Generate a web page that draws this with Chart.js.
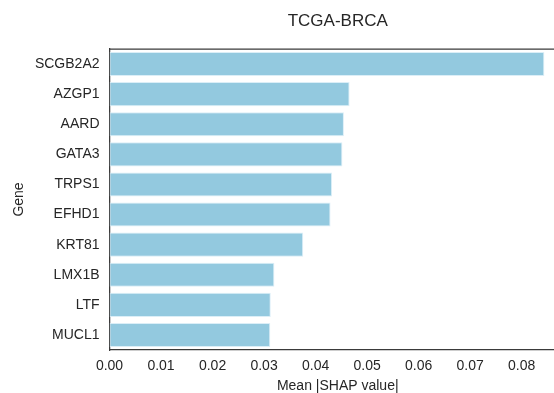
<!DOCTYPE html>
<html>
<head>
<meta charset="utf-8">
<script src="https://cdn.jsdelivr.net/npm/chart.js@4.4.1/dist/chart.umd.min.js"></script>
<style>
  html, body { margin: 0; padding: 0; background: #ffffff; overflow: hidden; }
  #wrap { width: 566px; height: 393px; position: relative; }
</style>
</head>
<body>
<div id="wrap"><canvas id="c" width="566" height="393"></canvas></div>
<script>
// Top genes by mean absolute SHAP value
const genes = ['SCGB2A2', 'AZGP1', 'AARD', 'GATA3', 'TRPS1', 'EFHD1', 'KRT81', 'LMX1B', 'LTF', 'MUCL1'];
const meanShap = [0.0844, 0.0466, 0.0455, 0.0452, 0.0432, 0.0429, 0.0376, 0.0320, 0.0313, 0.0312];
const xTickStep = 0.01;
const xMax = 0.0886;

const chartTitle = 'TCGA-BRCA';
const xTitle = 'Mean |SHAP value|';
const yTitle = 'Gene';

const FONT = 'Arial, "Liberation Sans", Helvetica, sans-serif';
const INK = '#262626';
const SPINE = '#3a3a3a';

// Title centred over the plot area plus the top spine
const frame = {
  id: 'frame',
  afterDraw(chart) {
    const { ctx, chartArea: a } = chart;
    ctx.save();
    ctx.strokeStyle = SPINE;
    ctx.lineWidth = 1.25;
    ctx.beginPath();
    ctx.moveTo(a.left, a.top);
    ctx.lineTo(a.right + 2, a.top);
    ctx.stroke();
    ctx.fillStyle = INK;
    ctx.font = '17px ' + FONT;
    ctx.textAlign = 'center';
    ctx.textBaseline = 'middle';
    ctx.fillText(chartTitle, (a.left + a.right) / 2, 21.5);
    ctx.restore();
  }
};

new Chart(document.getElementById('c'), {
  type: 'bar',
  data: {
    labels: genes,
    datasets: [{
      data: meanShap,
      backgroundColor: '#93C9DF',
      borderColor: 'rgba(215,236,246,0.9)',
      borderWidth: 1,
      borderSkipped: false,
      barPercentage: 0.8,
      categoryPercentage: 1.0
    }]
  },
  options: {
    indexAxis: 'y',
    responsive: false,
    animation: false,
    layout: { padding: { top: 49, right: 0, bottom: 0, left: 0 } },
    plugins: {
      legend: { display: false },
      tooltip: { enabled: false },
      title: { display: false }
    },
    scales: {
      x: {
        type: 'linear',
        min: 0,
        max: xMax,
        afterFit(scale) { scale.height = 43; },
        ticks: {
          stepSize: xTickStep,
          includeBounds: false,
          padding: 8,
          color: INK,
          font: { family: FONT, size: 14 },
          maxRotation: 0,
          autoSkip: false,
          callback: v => Number(v).toFixed(2)
        },
        grid: { display: false, drawTicks: false },
        border: { display: true, color: SPINE, width: 1.25 },
        title: {
          display: true,
          text: xTitle,
          color: INK,
          font: { family: FONT, size: 14, lineHeight: 1.0 },
          padding: { top: 0, bottom: 0 }
        }
      },
      y: {
        type: 'category',
        afterFit(scale) { scale.width = 109.5; },
        ticks: {
          padding: 10,
          color: INK,
          font: { family: FONT, size: 14 }
        },
        grid: { display: false, drawTicks: false },
        border: { display: true, color: SPINE, width: 1.25 },
        title: {
          display: true,
          text: yTitle,
          color: INK,
          font: { family: FONT, size: 14, lineHeight: 1.2 },
          padding: { top: 10.5, bottom: 0 }
        }
      }
    }
  },
  plugins: [frame]
});
</script>
</body>
</html>
